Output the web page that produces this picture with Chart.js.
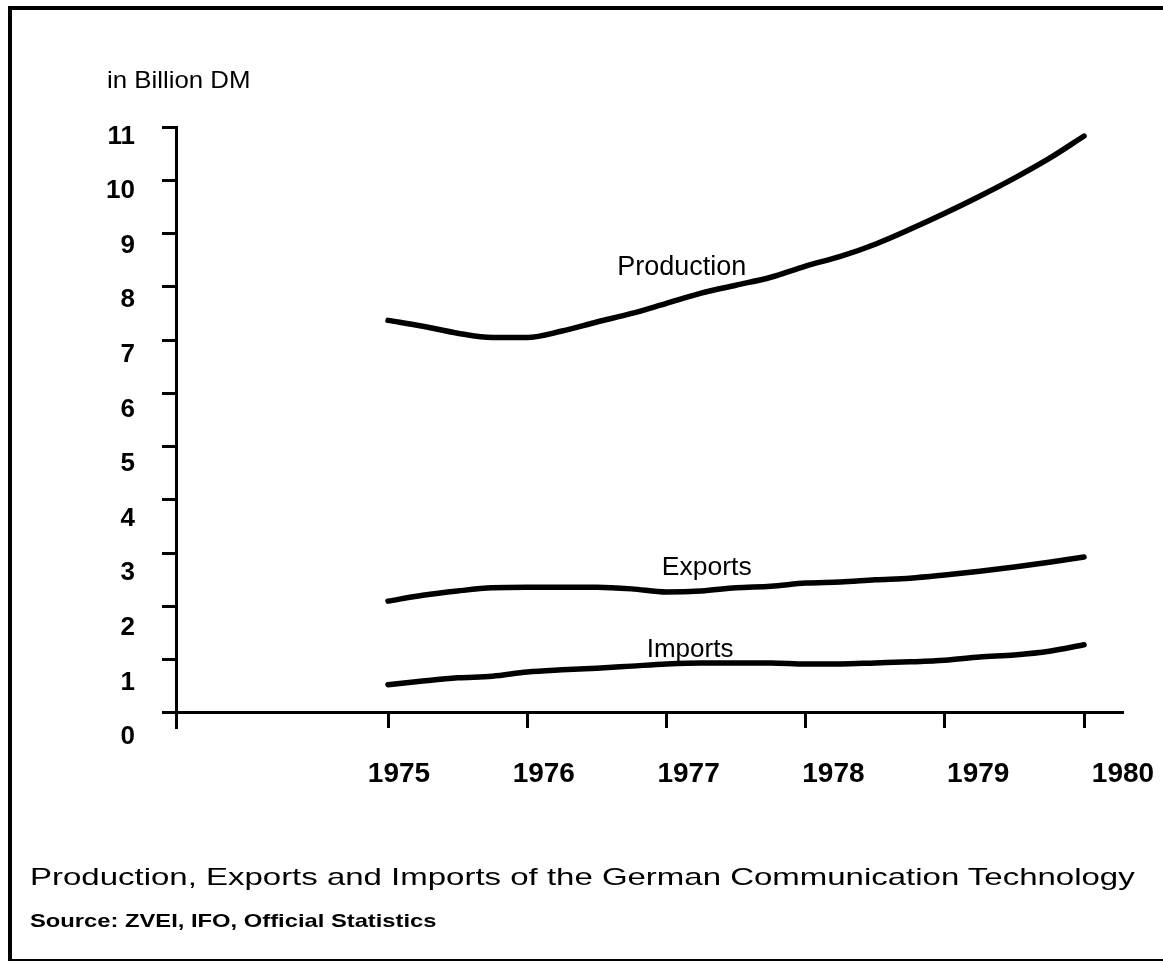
<!DOCTYPE html>
<html>
<head>
<meta charset="utf-8">
<script src="https://cdn.jsdelivr.net/npm/chart.js@4.4.1/dist/chart.umd.min.js"></script>
<style>
  html, body { margin: 0; padding: 0; background: #fff; overflow: hidden; }
  #wrap { position: absolute; left: 0; top: 0; width: 1163px; height: 963px; }
  canvas { position: absolute; left: 0; top: 0; }
  .frame { position: absolute; left: 8px; top: 6px; width: 1200px; height: 955px; box-sizing: border-box;
           border-top: 4px solid #000; border-left: 4px solid #000; border-bottom: 2px solid #000; }
  .txt { position: absolute; white-space: nowrap; color: #000; font-family: "Liberation Sans", Arial, sans-serif;
         transform-origin: 0 50%; }
</style>
</head>
<body>
<div id="wrap">
  <div class="frame"></div>
  <canvas id="c" width="1163" height="963"></canvas>
  <div class="txt" id="unit" style="left:107px; top:68px; font-size:24px; line-height:24px; transform:scaleX(1.075);">in Billion DM</div>
  <div class="txt" id="title" style="left:30px; top:865px; font-size:24px; line-height:24px; transform:scaleX(1.374);">Production, Exports and Imports of the German Communication Technology</div>
  <div class="txt" id="source" style="left:30px; top:911px; font-size:19px; line-height:19px; font-weight:bold; transform:scaleX(1.25);">Source: ZVEI, IFO, Official Statistics</div>
</div>
<script>
// ---- data ----
const periods = [1975, 1975.25, 1975.5, 1975.75, 1976, 1976.25, 1976.5, 1976.75, 1977, 1977.25, 1977.5,
                 1977.75, 1978, 1978.25, 1978.5, 1978.75, 1979, 1979.25, 1979.5, 1979.75, 1980];
const production = [7.37, 7.26, 7.13, 7.05, 7.05, 7.17, 7.34, 7.50, 7.69, 7.88, 8.03,
                    8.18, 8.39, 8.57, 8.80, 9.08, 9.38, 9.70, 10.04, 10.41, 10.83];
const exportsBn = [2.10, 2.21, 2.29, 2.35, 2.36, 2.36, 2.36, 2.33, 2.27, 2.29, 2.35,
                   2.38, 2.44, 2.46, 2.50, 2.53, 2.59, 2.66, 2.74, 2.83, 2.93];
const importsBn = [0.53, 0.60, 0.66, 0.69, 0.77, 0.81, 0.84, 0.88, 0.92, 0.94, 0.94,
                   0.94, 0.92, 0.92, 0.94, 0.96, 0.99, 1.05, 1.09, 1.16, 1.28];
const yearTicks = [1975, 1976, 1977, 1978, 1979, 1980];
const yearLabels = ['1975', '1976', '1977', '1978', '1979', '1980'];
const valueTicks = [0, 1, 2, 3, 4, 5, 6, 7, 8, 9, 10, 11];
const seriesNames = ['Production', 'Exports', 'Imports'];

const FONT = '"Liberation Sans", Arial, sans-serif';
const toPoints = (vals) => vals.map((v, i) => ({ x: periods[i], y: v }));

const lineStyle = {
  borderColor: '#000', borderWidth: 5.5, pointRadius: 0, fill: false,
  cubicInterpolationMode: 'monotone', borderCapStyle: 'round', borderJoinStyle: 'round',
  xAxisID: 'x', yAxisID: 'y'
};

// series name labels drawn near the curves, anchored in data space
const seriesLabelPlugin = {
  id: 'seriesLabels',
  afterDatasetsDraw(chart, args, opts) {
    const { ctx, scales } = chart;
    ctx.save();
    ctx.fillStyle = '#000';
    ctx.textAlign = 'center';
    ctx.textBaseline = 'middle';
    opts.items.forEach(it => {
      ctx.font = it.size + 'px ' + FONT;
      ctx.fillText(it.text, scales.x.getPixelForValue(it.x), scales.y.getPixelForValue(it.y));
    });
    ctx.restore();
  }
};

const noPad = (s) => { s.paddingLeft = 0; s.paddingRight = 0; s.paddingTop = 0; s.paddingBottom = 0; };

new Chart(document.getElementById('c'), {
  type: 'line',
  data: {
    datasets: [
      Object.assign({ label: seriesNames[0], data: toPoints(production) }, lineStyle),
      Object.assign({ label: seriesNames[1], data: toPoints(exportsBn) }, lineStyle),
      Object.assign({ label: seriesNames[2], data: toPoints(importsBn) }, lineStyle)
    ]
  },
  options: {
    responsive: false,
    animation: false,
    layout: { padding: { left: 20, top: 127, right: 40, bottom: 165 } },
    plugins: {
      legend: { display: false },
      tooltip: { enabled: false },
      seriesLabels: {
        items: [
          { text: seriesNames[0], x: 1977.11, y: 8.37, size: 27 },
          { text: seriesNames[1], x: 1977.29, y: 2.72, size: 26.5 },
          { text: seriesNames[2], x: 1977.17, y: 1.18, size: 26 }
        ]
      }
    },
    scales: {
      x: {
        type: 'linear',
        position: { y: 0 },
        min: 1973.477, max: 1980.28,
        afterBuildTicks: (s) => { s.ticks = yearTicks.map(v => ({ value: v })); },
        afterFit: noPad,
        ticks: { display: false },
        grid: { drawOnChartArea: false, drawTicks: true, tickLength: 14, tickWidth: 3, tickColor: '#000' },
        border: { display: true, color: '#000', width: 3 }
      },
      x2: {
        type: 'linear',
        position: 'bottom',
        min: 1973.46, max: 1980,
        afterBuildTicks: (s) => { s.ticks = yearTicks.map(v => ({ value: v })); },
        afterFit: (s) => { s.height = 70; noPad(s); },
        ticks: {
          color: '#000', padding: 29, maxRotation: 0, autoSkip: false,
          font: { family: FONT, size: 28, weight: 'bold' },
          callback: (v) => yearLabels[yearTicks.indexOf(v)]
        },
        grid: { display: false, drawTicks: false },
        border: { display: false }
      },
      y: {
        type: 'linear',
        position: 'left',
        weight: 0,
        min: -0.28157, max: 11,
        afterBuildTicks: (s) => { s.ticks = valueTicks.map(v => ({ value: v })); },
        afterFit: (s) => { s.width = 14; noPad(s); },
        ticks: { display: false },
        grid: { drawOnChartArea: false, drawTicks: true, tickLength: 14, tickWidth: 3, tickColor: '#000' },
        border: { display: true, color: '#000', width: 3 }
      },
      y2: {
        type: 'linear',
        position: 'left',
        weight: 1,
        min: 0, max: 11.01,
        afterBuildTicks: (s) => { s.ticks = valueTicks.map(v => ({ value: v })); },
        afterFit: (s) => { s.width = 142; noPad(s); },
        ticks: {
          color: '#000', padding: 27, labelOffset: 9, autoSkip: false,
          font: { family: FONT, size: 26, weight: 'bold' },
          callback: (v) => String(v)
        },
        grid: { display: false, drawTicks: false },
        border: { display: false }
      }
    }
  },
  plugins: [seriesLabelPlugin]
});
</script>
</body>
</html>
